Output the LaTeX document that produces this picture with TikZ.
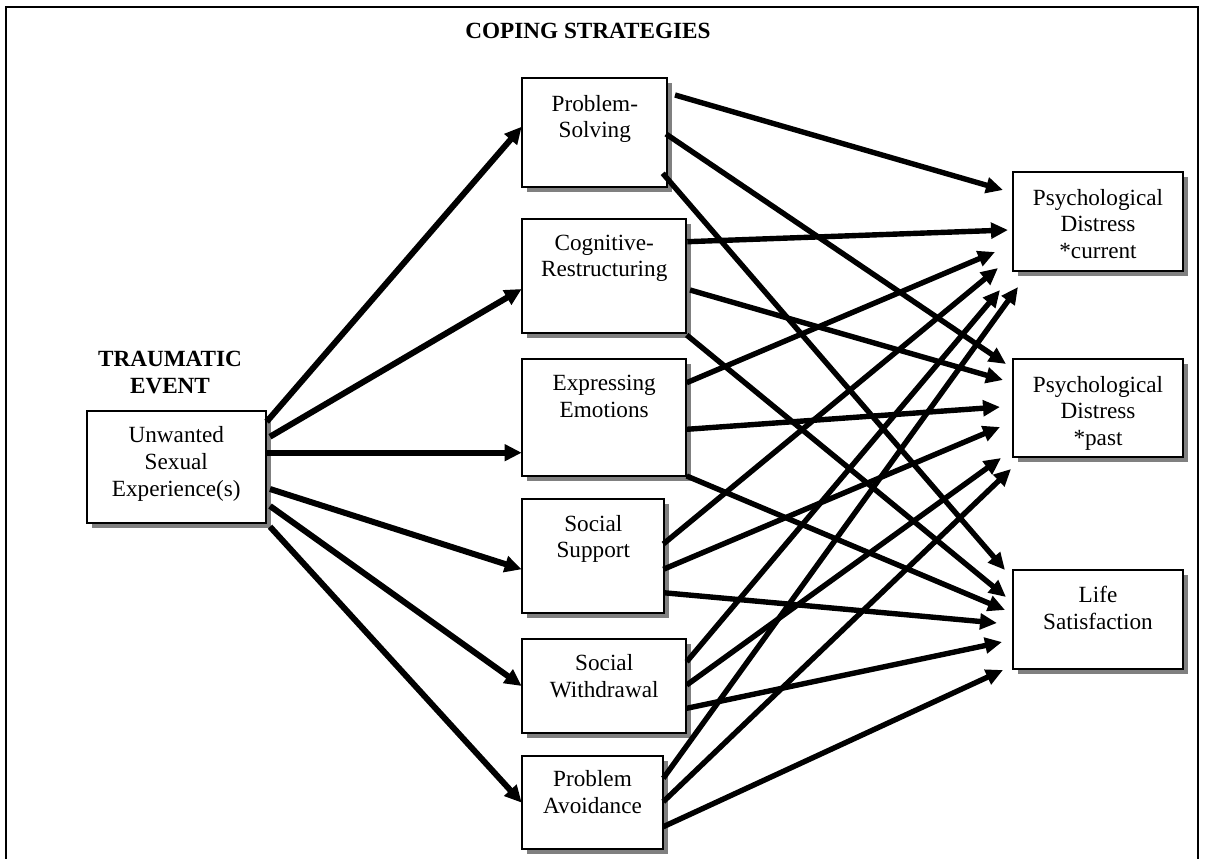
\documentclass[tikz,border=0pt]{standalone}
\usepackage{fontspec}
\setmainfont{Liberation Serif}
\usetikzlibrary{arrows.meta,shadows}
\begin{document}
\begin{tikzpicture}[x=1pt,y=-1pt,
  box/.style={draw=black, line width=1.9pt, fill=white, inner sep=0pt,
    drop shadow={shadow xshift=5pt, shadow yshift=-5pt, fill=black!50, opacity=1}},
  txt/.style={align=center, inner sep=0pt, font=\fontsize{23.2}{26.8}\selectfont},
  head/.style={align=center, inner sep=0pt, font=\fontsize{23.2}{26.8}\selectfont\bfseries},
  arr/.style={line width=6pt, -{Triangle[length=17pt,width=16pt]}},
  arrb/.style={line width=5.4pt, -{Triangle[length=17pt,width=15.5pt]}},
  frame/.style={line width=1.8pt}
]
\useasboundingbox (0,0) rectangle (1205,859);
\draw[frame] (6,859) -- (6,7) -- (1198,7) -- (1198,859);

% headings
\node[head] (title) at (588,31.3) {COPING STRATEGIES};
\node[head] (trauma) at (170,372.2) {TRAUMATIC\\EVENT};

% boxes
\node[box, minimum width=179pt, minimum height=112pt] (ue) at (176.2,466.7) {};
\node[txt] (uet) at (176.3,463.8) {Unwanted\\Sexual\\Experience(s)};

\node[box, minimum width=145pt, minimum height=109pt] (ps) at (594.8,132.8) {};
\node[txt] (pst) at (594.8,118.9) {Problem-\\Solving};

\node[box, minimum width=163.7pt, minimum height=113.7pt] (cr) at (604.2,275.9) {};
\node[txt] (crt) at (604.2,258.4) {Cognitive-\\Restructuring};

\node[box, minimum width=163.7pt, minimum height=117pt] (ee) at (604.2,417.5) {};
\node[txt] (eet) at (604.2,396.7) {Expressing\\Emotions};

\node[box, minimum width=142pt, minimum height=114pt] (ss) at (593.3,556.3) {};
\node[txt] (sst) at (593.3,538.9) {Social\\Support};

\node[box, minimum width=163.7pt, minimum height=93.4pt] (sw) at (604.2,686) {};
\node[txt] (swt) at (604.2,676.3) {Social\\Withdrawal};

\node[box, minimum width=140.4pt, minimum height=93.3pt] (pa) at (592.5,802.7) {};
\node[txt] (pat) at (592.5,792.3) {Problem\\Avoidance};

\node[box, minimum width=170.6pt, minimum height=98.4pt] (pdc) at (1098,221.5) {};
\node[txt] (pdct) at (1098,223.9) {Psychological\\Distress\\*current};

\node[box, minimum width=170.6pt, minimum height=98.3pt] (pdp) at (1098,408.2) {};
\node[txt] (pdpt) at (1098,413.3) {Psychological\\Distress\\*past};

\node[box, minimum width=170.6pt, minimum height=99pt] (ls) at (1098,619.5) {};
\node[txt] (lst) at (1098,607.8) {Life\\Satisfaction};

% arrow ends: traumatic event -> coping strategies
\coordinate (ue1) at (266.7,421.7);  \coordinate (ps-in) at (521.7,126.7);
\coordinate (ue2) at (270,436.7);    \coordinate (cr-in) at (521.7,289);
\coordinate (ue3) at (266.7,452.7);  \coordinate (ee-in) at (521.7,452.7);
\coordinate (ue4) at (270,489);      \coordinate (ss-in) at (521.7,569.3);
\coordinate (ue5) at (270,506);      \coordinate (sw-in) at (521.7,686);
\coordinate (ue6) at (270,526.7);    \coordinate (pa-in) at (521.7,802.7);

\draw[arr] (ue1) -- (ps-in);
\draw[arr] (ue2) -- (cr-in);
\draw[arr] (ue3) -- (ee-in);
\draw[arr] (ue4) -- (ss-in);
\draw[arr] (ue5) -- (sw-in);
\draw[arr] (ue6) -- (pa-in);

% coping strategies -> outcomes
\coordinate (ps1) at (675,95);       \coordinate (pdc1) at (1003,190);
\coordinate (ps2) at (666,134);      \coordinate (pdp1) at (1006,364);
\coordinate (ps3) at (662.7,173.3);  \coordinate (ls1) at (1005,570);
\coordinate (cr1) at (687.3,241.7);  \coordinate (pdc2) at (1008,230);
\coordinate (cr2) at (690,290);      \coordinate (pdp2) at (1003,380);
\coordinate (cr3) at (686.7,335);    \coordinate (ls2) at (1006,597);
\coordinate (ee1) at (686.7,382.7);  \coordinate (pdc3) at (995,252);
\coordinate (ee2) at (686.7,429.3);  \coordinate (pdp3) at (1000,407);
\coordinate (ee3) at (686.7,476);    \coordinate (ls3) at (1005,610);
\coordinate (ss1) at (663.3,544);    \coordinate (pdc4) at (998,268);
\coordinate (ss2) at (663.3,569.3);  \coordinate (pdp4) at (1000,427);
\coordinate (ss3) at (663.3,592.7);  \coordinate (ls4) at (997,623);
\coordinate (sw1) at (686.7,661.7);  \coordinate (pdc5) at (1000,290);
\coordinate (sw2) at (686.7,685);    \coordinate (pdp5) at (1001,458);
\coordinate (sw3) at (686.7,708.3);  \coordinate (ls5) at (1002,642);
\coordinate (pa1) at (663.3,778.3);  \coordinate (pdc6) at (1018,287);
\coordinate (pa2) at (663.3,801.7);  \coordinate (pdp6) at (1011,469);
\coordinate (pa3) at (663.3,826.7);  \coordinate (ls6) at (1003,670);

\draw[arrb] (ps1) -- (pdc1);
\draw[arrb] (ps2) -- (pdp1);
\draw[arrb] (ps3) -- (ls1);
\draw[arrb] (cr1) -- (pdc2);
\draw[arrb] (cr2) -- (pdp2);
\draw[arrb] (cr3) -- (ls2);
\draw[arrb] (ee1) -- (pdc3);
\draw[arrb] (ee2) -- (pdp3);
\draw[arrb] (ee3) -- (ls3);
\draw[arrb] (ss1) -- (pdc4);
\draw[arrb] (ss2) -- (pdp4);
\draw[arrb] (ss3) -- (ls4);
\draw[arrb] (sw1) -- (pdc5);
\draw[arrb] (sw2) -- (pdp5);
\draw[arrb] (sw3) -- (ls5);
\draw[arrb] (pa1) -- (pdc6);
\draw[arrb] (pa2) -- (pdp6);
\draw[arrb] (pa3) -- (ls6);
\end{tikzpicture}
\end{document}
